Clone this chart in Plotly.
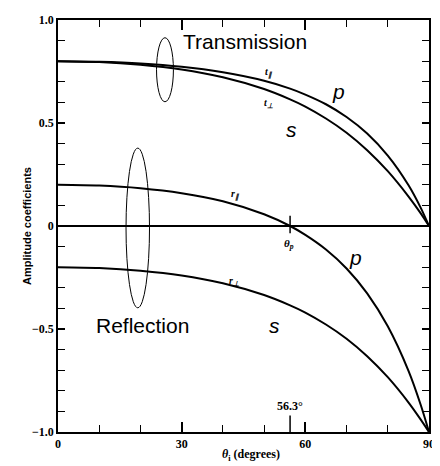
import plotly.graph_objects as go

# Angle of incidence (degrees) and amplitude coefficients
angles = [0, 10, 20, 30, 40, 50, 56.3, 60, 65, 70, 75, 80, 85, 88, 90]
t_par = [0.800, 0.797, 0.789, 0.773, 0.746, 0.705, 0.667, 0.638, 0.591, 0.529, 0.449, 0.342, 0.199, 0.088, 0.0]
t_perp = [0.800, 0.796, 0.783, 0.760, 0.722, 0.665, 0.615, 0.580, 0.522, 0.453, 0.368, 0.266, 0.144, 0.061, 0.0]
r_par = [0.200, 0.196, 0.183, 0.159, 0.120, 0.057, 0.0, -0.043, -0.114, -0.206, -0.327, -0.487, -0.702, -0.869, -1.0]
r_perp = [-0.200, -0.204, -0.217, -0.240, -0.278, -0.335, -0.385, -0.420, -0.478, -0.547, -0.632, -0.734, -0.856, -0.940, -1.0]

brewster = 56.3
x_tickvals = [0, 30, 60, 90]
x_ticktext = ["0", "30", "60", "90"]
y_tickvals = [-1.0, -0.5, 0, 0.5, 1.0]
y_ticktext = ["\u22121.0", "\u22120.5", "0", "0.5", "1.0"]

fig = go.Figure()
for ys in (t_par, t_perp, r_par, r_perp):
    fig.add_trace(go.Scatter(x=angles, y=ys, mode="lines",
                             line=dict(color="black", width=2, shape="spline", smoothing=0.8),
                             showlegend=False, hoverinfo="skip"))

serif = "Liberation Serif"
sans = "Liberation Sans"

fig.update_layout(
    width=432, height=458,
    margin=dict(l=50, r=5, t=6, b=34),
    paper_bgcolor="white", plot_bgcolor="white",
    showlegend=False,
)
fig.update_xaxes(
    range=[0, 90], showgrid=False, zeroline=False,
    showline=True, linecolor="black", linewidth=1.5, mirror="ticks",
    ticks="inside", ticklen=10, tickwidth=1.5, tickcolor="black",
    tickvals=x_tickvals, ticktext=x_ticktext,
    tickfont=dict(family=serif, size=12, color="black", weight="bold"),
    minor=dict(dtick=10, ticks="inside", ticklen=7, tickwidth=1.2, tickcolor="black"),
)
fig.update_yaxes(
    range=[-1, 1], showgrid=False, zeroline=True, zerolinecolor="black", zerolinewidth=1.5,
    showline=True, linecolor="black", linewidth=1.5, mirror="ticks",
    ticks="inside", ticklen=7, tickwidth=1.5, tickcolor="black",
    tickvals=y_tickvals, ticktext=y_ticktext,
    tickfont=dict(family=serif, size=12, color="black", weight="bold"),
    minor=dict(dtick=0.1, ticks="inside", ticklen=7, tickwidth=1.2, tickcolor="black"),
)

# Brewster angle marks
fig.add_shape(type="line", x0=brewster, x1=brewster, y0=-1, y1=-0.92,
              line=dict(color="black", width=1.5))
fig.add_shape(type="line", x0=brewster, x1=brewster, y0=-0.035, y1=0.05,
              line=dict(color="black", width=1.5))

# Ellipses
fig.add_shape(type="circle", x0=23.9, x1=28.0, y0=0.603, y1=0.914,
              line=dict(color="black", width=1))
fig.add_shape(type="circle", x0=16.5, x1=22.2, y0=-0.397, y1=0.378,
              line=dict(color="black", width=1))

def ann(x, y, text, size, family, italic=False, bold=False):
    t = text
    if italic:
        t = "<i>" + t + "</i>"
    if bold:
        t = "<b>" + t + "</b>"
    fig.add_annotation(x=x, y=y, text=t, showarrow=False,
                       font=dict(family=family, size=size, color="black"))

ann(45.4, 0.895, "Transmission", 21, sans)
ann(20.4, -0.483, "Reflection", 21, sans)
ann(68.0, 0.651, "p", 21, sans, italic=True)
ann(56.6, 0.469, "s", 21, sans, italic=True)
ann(72.1, -0.153, "p", 21, sans, italic=True)
ann(52.5, -0.483, "s", 21, sans, italic=True)
ann(51.3, 0.746, "t<sub>\u2225</sub>", 10, serif, italic=True, bold=True)
ann(51.1, 0.593, "t<sub>\u22a5</sub>", 10, serif, italic=True, bold=True)
ann(43.0, 0.153, "r<sub>\u2225</sub>", 10, serif, italic=True, bold=True)
ann(42.7, -0.268, "r<sub>\u22a5</sub>", 10, serif, italic=True, bold=True)
ann(56.1, -0.086, "\u03b8<sub>p</sub>", 11, serif, italic=True, bold=True)
fig.add_annotation(x=brewster, y=-0.92, text="<b>56.3\u00b0</b>", showarrow=False,
                   yanchor="bottom", yshift=1,
                   font=dict(family=serif, size=12, color="black"))

# Axis titles
fig.add_annotation(xref="paper", yref="paper", x=0.52, y=0, yshift=-13, yanchor="top",
                   text="<b><i>\u03b8</i><sub>i</sub> (degrees)</b>", showarrow=False,
                   font=dict(family=serif, size=12, color="black"))
fig.add_annotation(xref="paper", yref="paper", x=0, y=0.5, xshift=-39, textangle=-90,
                   text="<b>Amplitude coefficients</b>", showarrow=False,
                   font=dict(family=sans, size=11, color="black"))

fig.write_html("out.html")
